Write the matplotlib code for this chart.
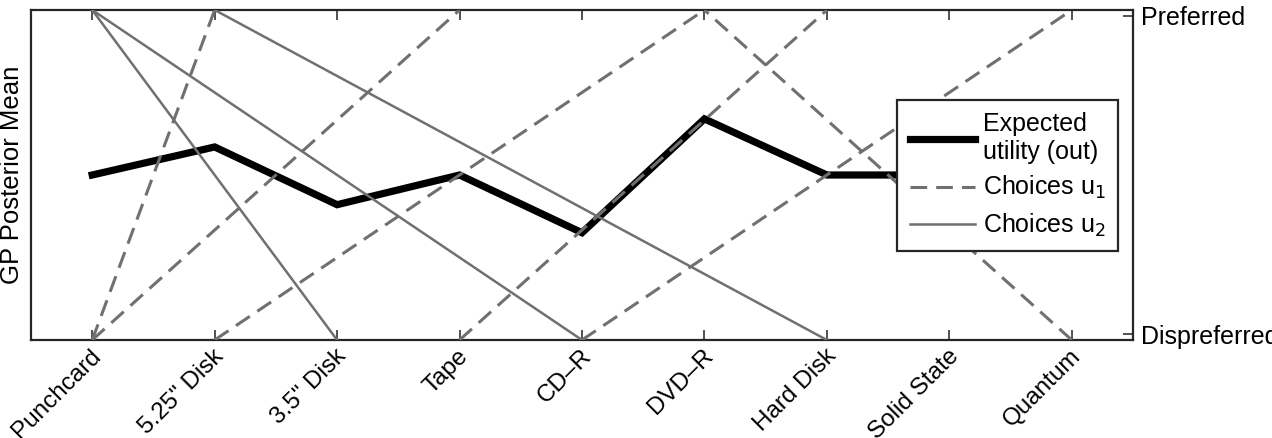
import matplotlib
matplotlib.use("Agg")
import matplotlib.pyplot as plt
from matplotlib.lines import Line2D
from matplotlib.transforms import ScaledTranslation

plt.rcParams['font.family'] = ['Liberation Sans', 'DejaVu Sans']
plt.rcParams['lines.scale_dashes'] = False

# ---- data ----
categories = ['Punchcard', '5.25" Disk', '3.5" Disk', 'Tape', 'CD\u2013R',
              'DVD\u2013R', 'Hard Disk', 'Solid State', 'Quantum']
expected_utility = [0.50, 0.585, 0.41, 0.50, 0.325, 0.67, 0.50, 0.50, 0.50]

# choices u1: (dispreferred item -> preferred item)
u1_low = ['Punchcard', 'Punchcard', '5.25" Disk', 'Tape', 'CD\u2013R', 'Quantum']
u1_high = ['5.25" Disk', 'Tape', 'DVD\u2013R', 'Hard Disk', 'Quantum', 'DVD\u2013R']

# choices u2: (preferred item -> dispreferred item)
u2_high = ['Punchcard', 'Punchcard', '5.25" Disk']
u2_low = ['3.5" Disk', 'CD\u2013R', 'Hard Disk']

ytick_vals = [0.018, 0.982]
ytick_labels = ['Dispreferred', 'Preferred']

# ---- figure ----
W, H = 1272, 438
FS = 18
fig = plt.figure(figsize=(W / 100, H / 100), dpi=100)
left, right, top, bottom = 31, 1133, 10, 340
ax = fig.add_axes([left / W, 1 - bottom / H, (right - left) / W, (bottom - top) / H])

xpos = {c: i + 1 for i, c in enumerate(categories)}
gray = '#707070'

ax.plot([xpos[c] for c in categories], expected_utility, color='black',
        lw=5.2, solid_joinstyle='miter', zorder=2)

for lo, hi in zip(u1_low, u1_high):
    ax.plot([xpos[lo], xpos[hi]], [0, 1], color=gray, lw=2.2,
            dashes=(12, 6.5), zorder=3)
for hi, lo in zip(u2_high, u2_low):
    ax.plot([xpos[hi], xpos[lo]], [1, 0], color=gray, lw=1.8, zorder=3)

ax.set_xlim(0.5, len(categories) + 0.5)
ax.set_ylim(0, 1)

ax.set_xticks(range(1, len(categories) + 1))
ax.set_xticklabels(categories, rotation=45, ha='right', va='top',
                   rotation_mode='anchor', fontsize=17.5)
ax.tick_params(axis='x', direction='in', top=True, bottom=True, length=7,
               width=1.2, pad=0, color='#333333')
offset = ScaledTranslation(-2 / 100, -5 / 100, fig.dpi_scale_trans)
for lbl in ax.get_xticklabels():
    lbl.set_transform(lbl.get_transform() + offset)

ax.yaxis.tick_right()
ax.set_yticks(ytick_vals)
ax.set_yticklabels(ytick_labels, fontsize=FS)
ax.tick_params(axis='y', direction='in', right=True, left=False, length=7,
               width=1.2, pad=6, color='#333333')

for s in ax.spines.values():
    s.set_linewidth(1.6)
    s.set_color('#262626')

ax.set_ylabel('GP Posterior Mean', fontsize=18.5)
ax.yaxis.set_label_position('left')
ax.yaxis.set_label_coords(-0.006, 0.5)

handles = [Line2D([], [], color='black', lw=5.2),
           Line2D([], [], color=gray, lw=2.2, dashes=(12, 6.5)),
           Line2D([], [], color=gray, lw=1.8)]
labels = ['Expected\nutility (out)', 'Choices u$_1$', 'Choices u$_2$']
leg = ax.legend(handles, labels, loc='upper left',
                bbox_to_anchor=((897 - left) / (right - left), (bottom - 100) / (bottom - top)),
                borderaxespad=0, fontsize=FS, frameon=True, fancybox=False,
                framealpha=1, edgecolor='#262626', handlelength=2.6,
                handletextpad=0.33, labelspacing=0.4, borderpad=0.5)
leg.get_frame().set_linewidth(1.6)
leg.set_zorder(5)

fig.savefig('out.png', dpi=100)
